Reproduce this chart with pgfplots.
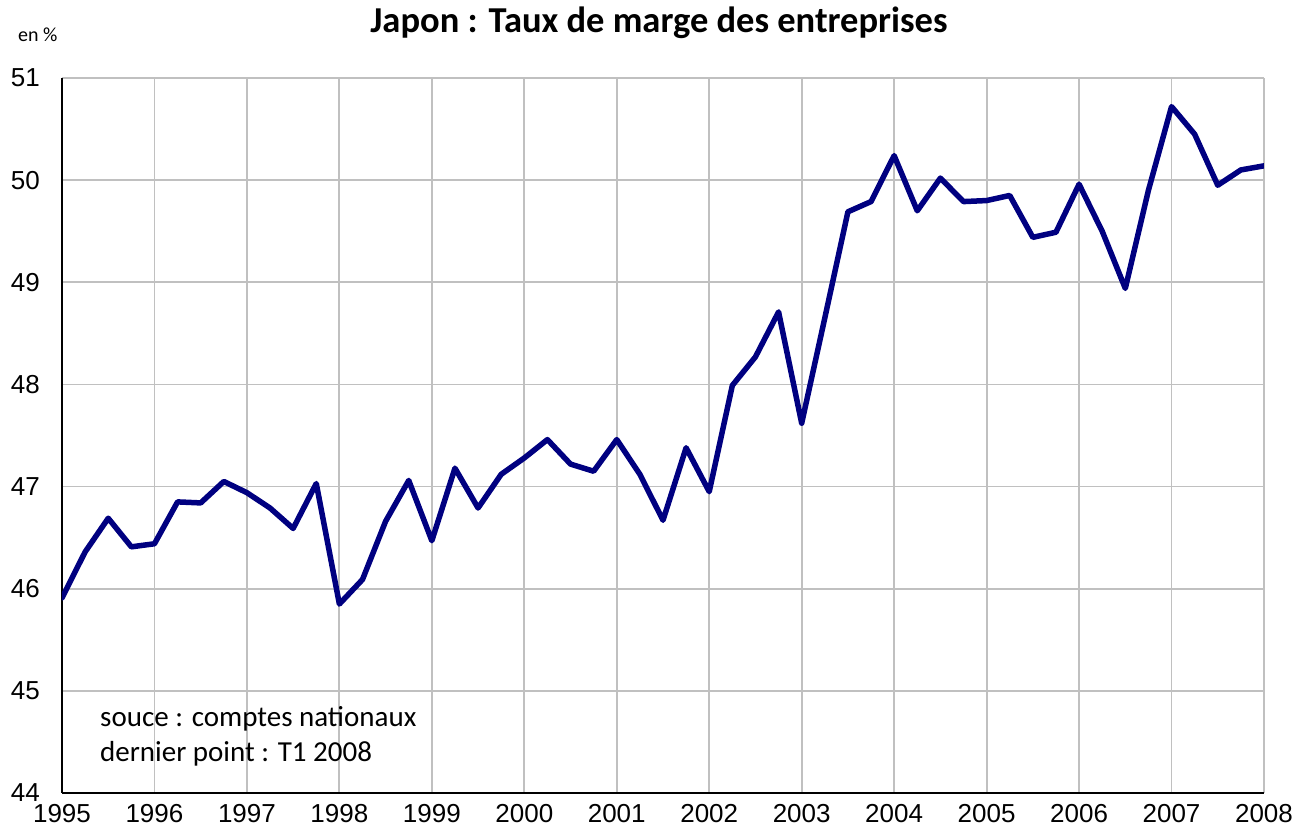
\documentclass[border=0pt]{standalone}
\usepackage{pgfplots}
\pgfplotsset{compat=1.18}
\usepackage{fontspec}
\setmainfont{Liberation Sans}
\newfontfamily\calibri{Carlito}
\definecolor{navyline}{RGB}{0,0,128}
\definecolor{gridgray}{RGB}{192,192,192}
\begin{document}
\begin{tikzpicture}
\useasboundingbox (-62pt,-36pt) rectangle (1233pt,793pt);
\begin{axis}[
  at={(0,0)}, anchor=south west,
  scale only axis, width=1202pt, height=715pt,
  xmin=1995, xmax=2008, ymin=44, ymax=51,
  xtick={1995,1996,...,2008}, ytick={44,45,...,51},
  xticklabel style={/pgf/number format/1000 sep={}, font=\fontsize{26}{30}\selectfont, inner sep=0pt, yshift=-11pt},
  yticklabel style={font=\fontsize{26}{30}\selectfont, inner sep=0pt, xshift=-22pt},
  /pgf/number format/assume math mode=true,
  axis x line*=bottom, axis y line*=left,
  axis line style={black, line width=1.8pt, -},
  major tick length=0pt,
  xmajorgrids, ymajorgrids,
  grid style={gridgray, line width=1.8pt},
  clip=true,
]
\addplot[navyline, line width=5.5pt, line join=round, line cap=round] table {
x y
1995.00 45.91
1995.25 46.36
1995.50 46.69
1995.75 46.41
1996.00 46.44
1996.25 46.85
1996.50 46.84
1996.75 47.05
1997.00 46.94
1997.25 46.79
1997.50 46.59
1997.75 47.03
1998.00 45.85
1998.25 46.09
1998.50 46.66
1998.75 47.06
1999.00 46.47
1999.25 47.18
1999.50 46.79
1999.75 47.12
2000.00 47.28
2000.25 47.46
2000.50 47.22
2000.75 47.15
2001.00 47.46
2001.25 47.12
2001.50 46.67
2001.75 47.38
2002.00 46.95
2002.25 47.99
2002.50 48.27
2002.75 48.71
2003.00 47.62
2003.25 48.65
2003.50 49.69
2003.75 49.79
2004.00 50.24
2004.25 49.70
2004.50 50.02
2004.75 49.79
2005.00 49.80
2005.25 49.85
2005.50 49.44
2005.75 49.49
2006.00 49.96
2006.25 49.50
2006.50 48.94
2006.75 49.90
2007.00 50.72
2007.25 50.45
2007.50 49.95
2007.75 50.10
2008.00 50.14
};
\end{axis}
\node[anchor=base, font=\calibri\bfseries\fontsize{36.5}{40}\selectfont, inner sep=0pt] at (597pt,760pt) {Japon : Taux de marge des entreprises};
\node[anchor=base west, font=\calibri\fontsize{20}{23}\selectfont, inner sep=0pt] at (-44pt,751pt) {en \%};
\node[anchor=base west, font=\calibri\fontsize{29}{33}\selectfont, inner sep=0pt] at (38pt,66pt) {souce : comptes nationaux};
\node[anchor=base west, font=\calibri\fontsize{29}{33}\selectfont, inner sep=0pt] at (38pt,31pt) {dernier point : T1 2008};
\end{tikzpicture}
\end{document}
